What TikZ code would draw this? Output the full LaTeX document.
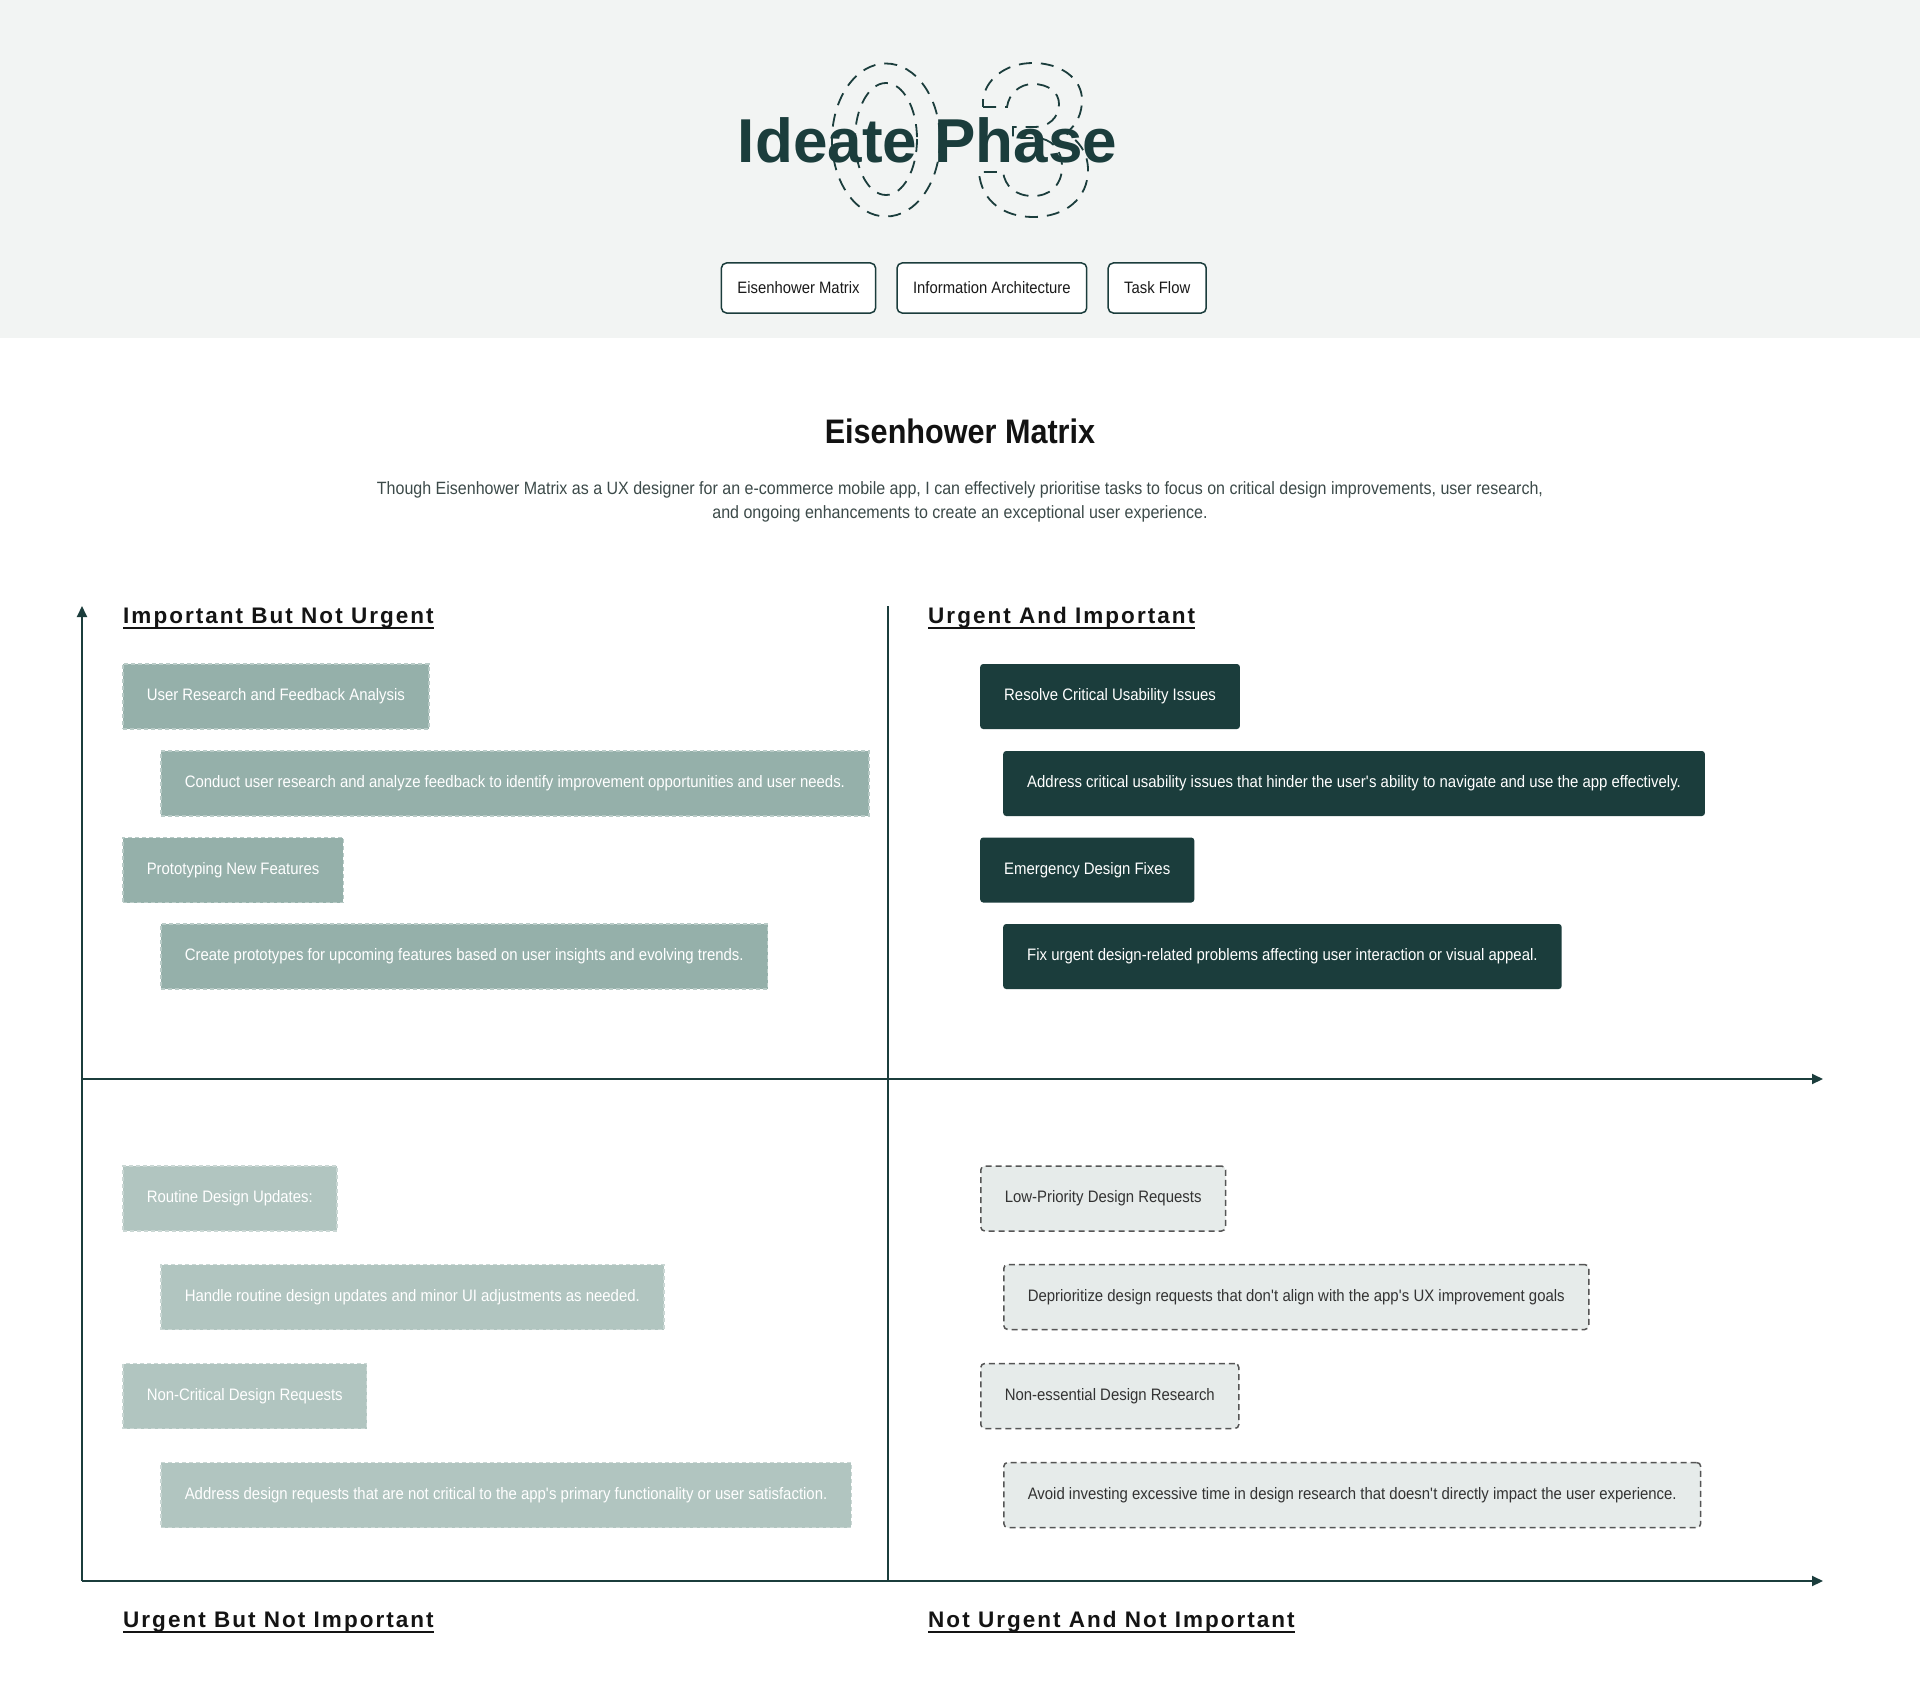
\documentclass[tikz,border=0pt]{standalone}
\usepackage{fontspec}
\setmainfont{Liberation Sans}
\newfontfamily\bodyfont{Liberation Sans}[FakeStretch=0.9]
\newfontfamily\headfont{Liberation Sans}[LetterSpace=9]
\usetikzlibrary{arrows.meta,positioning}

\definecolor{ink}{HTML}{1B3D3C}
\definecolor{band}{HTML}{F2F4F3}
\definecolor{sage}{HTML}{95B0AA}
\definecolor{sageedge}{HTML}{B9CBC7}
\definecolor{mist}{HTML}{B1C5C0}
\definecolor{mistedge}{HTML}{CAD7D4}
\definecolor{paper}{HTML}{E6EBEA}
\definecolor{slate}{HTML}{555555}
\definecolor{prose}{HTML}{3C4A49}

\begin{document}
\begin{tikzpicture}[x=1pt, y=-1pt,
  numeral/.style={draw=ink, line width=1.8pt, dash pattern=on 13pt off 9pt},
  tab/.style={draw=ink, line width=1.5pt, rounded corners=5pt, fill=white, minimum height=50pt,
    inner xsep=16pt, font=\bodyfont\fontsize{16.5}{20}\selectfont, text=black!90},
  qhead/.style={anchor=base west, inner sep=0pt, font=\headfont\bfseries\fontsize{22.5}{26}\selectfont, text=black!92},
  box/.style={anchor=west, minimum height=65pt, inner xsep=24pt, font=\bodyfont\fontsize{16.6}{20}\selectfont},
  plan/.style={box, fill=sage, draw=sageedge, line width=1.5pt, dash pattern=on 4pt off 3pt, text=white},
  doit/.style={box, fill=ink, rounded corners=3pt, text=white},
  defer/.style={box, fill=mist, draw=mistedge, line width=1.5pt, dash pattern=on 4pt off 3pt, text=white},
  drop/.style={box, fill=paper, draw=slate, line width=1.5pt, rounded corners=4pt, dash pattern=on 6pt off 4pt, text=black!80},
  axis/.style={draw=ink, line width=2pt}
]
  \useasboundingbox (0,0) rectangle (1920,1699);
  \fill[white] (0,0) rectangle (1920,1699);
  \fill[band] (0,0) rectangle (1920,338);

  % big outlined 03 behind the title
  \draw[numeral] (886,140) ellipse [x radius=54, y radius=76.5];
  \draw[numeral] (886,139) ellipse [x radius=31, y radius=56];
  \draw[numeral] (983,107) -- (1007,107)
    .. controls (1009,93) and (1020,84) .. (1033,84)
    .. controls (1048,84) and (1059,92) .. (1059,104)
    .. controls (1059,118) and (1048,127) .. (1035,127)
    -- (1013,127) -- (1013,138) -- (1035,138)
    .. controls (1052,138) and (1062,150) .. (1062,167)
    .. controls (1062,185) and (1050,196) .. (1033,196)
    .. controls (1015,196) and (1005,186) .. (1003,172)
    -- (979,172)
    .. controls (981,202) and (1005,217) .. (1033,217)
    .. controls (1066,217) and (1088,198) .. (1088,170)
    .. controls (1088,152) and (1078,140) .. (1066,133)
    .. controls (1077,125) and (1082,113) .. (1082,100)
    .. controls (1082,78) and (1060,63) .. (1033,63)
    .. controls (1005,63) and (985,80) .. (983,100)
    -- cycle;

  \node[anchor=base, inner sep=0pt, text=ink, font=\bfseries\fontsize{62}{70}\selectfont] (title) at (927.5,163) {Ideate Phase};

  % tabs
  \node[tab] (t1) at (798.5,288) {Eisenhower Matrix};
  \node[tab, right=20pt of t1] (t2) {Information Architecture};
  \node[tab, right=20pt of t2] (t3) {Task Flow};

  % section intro
  \node[anchor=base, inner sep=0pt, text=black!93, font=\bodyfont\bfseries\fontsize{34}{38}\selectfont] (sect) at (960,443) {Eisenhower Matrix};
  \node[anchor=base, inner sep=0pt, text=prose, font=\bodyfont\fontsize{17.8}{21}\selectfont] (intro1) at (960,494)
    {Though Eisenhower Matrix as a UX designer for an e-commerce mobile app, I can effectively prioritise tasks to focus on critical design improvements, user research,};
  \node[anchor=base, inner sep=0pt, text=prose, font=\bodyfont\fontsize{17.8}{21}\selectfont] (intro2) at (960,518)
    {and ongoing enhancements to create an exceptional user experience.};

  % axes
  \coordinate (o) at (82,1581);
  \coordinate (ytop) at (82,606);
  \coordinate (ymid) at (82,1079);
  \coordinate (xmid) at (1823,1079);
  \coordinate (xend) at (1823,1581);
  \coordinate (ctop) at (888,606);
  \coordinate (cbot) at (888,1581);
  \draw[axis, -{Triangle[length=11pt,width=10pt]}] (o) -- (ytop);
  \draw[axis, -{Triangle[length=11pt,width=10pt]}] (o) -- (xend);
  \draw[axis, -{Triangle[length=11pt,width=10pt]}] (ymid) -- (xmid);
  \draw[axis] (ctop) -- (cbot);

  % quadrant headings
  \node[qhead] (hq1) at (123,623) {Important But Not Urgent};
  \node[qhead] (hq2) at (928,623) {Urgent And Important};
  \node[qhead] (hq3) at (123,1627) {Urgent But Not Important};
  \node[qhead] (hq4) at (928,1627) {Not Urgent And Not Important};
  \foreach \h in {hq1,hq2,hq3,hq4}
    \draw[line width=2pt, black!92] ([yshift=-5pt]\h.base west) -- ([yshift=-5pt]\h.base east);

  % important, not urgent
  \node[plan] (p1) at (122,696.5) {User Research and Feedback Analysis};
  \node[plan] (p2) at (160,783.5) {Conduct user research and analyze feedback to identify improvement opportunities and user needs.};
  \node[plan] (p3) at (122,870) {Prototyping New Features};
  \node[plan] (p4) at (160,956.5) {Create prototypes for upcoming features based on user insights and evolving trends.};

  % urgent and important
  \node[doit] (u1) at (980,696.5) {Resolve Critical Usability Issues};
  \node[doit] (u2) at (1003,783.5) {Address critical usability issues that hinder the user\textquotesingle s ability to navigate and use the app effectively.};
  \node[doit] (u3) at (980,870) {Emergency Design Fixes};
  \node[doit] (u4) at (1003,956.5) {Fix urgent design-related problems affecting user interaction or visual appeal.};

  % urgent, not important
  \node[defer] (d1) at (122,1198.5) {Routine Design Updates:};
  \node[defer] (d2) at (160,1297) {Handle routine design updates and minor UI adjustments as needed.};
  \node[defer] (d3) at (122,1396) {Non-Critical Design Requests};
  \node[defer] (d4) at (160,1495) {Address design requests that are not critical to the app\textquotesingle s primary functionality or user satisfaction.};

  % neither
  \node[drop] (n1) at (980,1198.5) {Low-Priority Design Requests};
  \node[drop] (n2) at (1003,1297) {Deprioritize design requests that don\textquotesingle t align with the app\textquotesingle s UX improvement goals};
  \node[drop] (n3) at (980,1396) {Non-essential Design Research};
  \node[drop] (n4) at (1003,1495) {Avoid investing excessive time in design research that doesn\textquotesingle t directly impact the user experience.};
\end{tikzpicture}
\end{document}
